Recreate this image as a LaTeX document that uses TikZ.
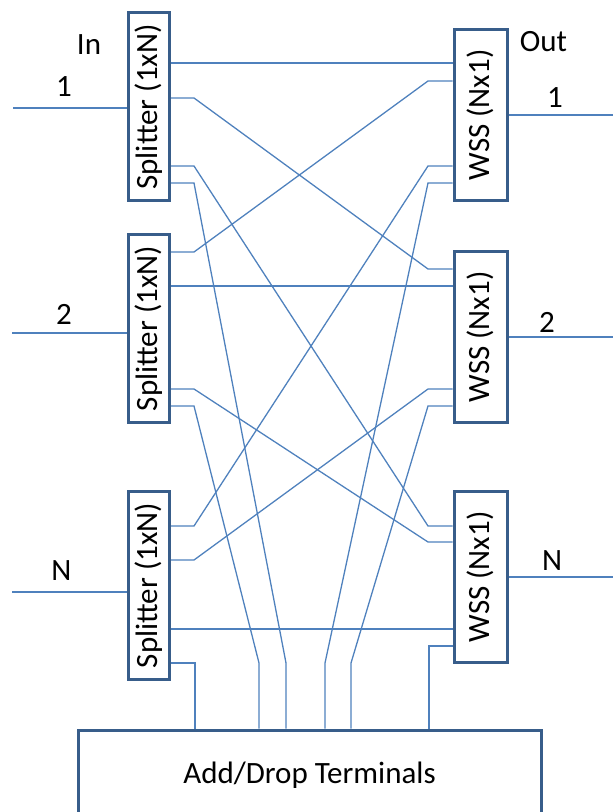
\documentclass[tikz,border=0pt]{standalone}
\usepackage{fontspec}
\setmainfont{Carlito}
\usetikzlibrary{calc}
\usetikzlibrary{backgrounds}
\definecolor{linkblue}{RGB}{79,129,189}
\definecolor{boxblue}{RGB}{56,93,138}

\begin{document}
\begin{tikzpicture}[x=0.5pt,y=-0.5pt,font=\fontsize{15.5}{18}\selectfont,
    splitbox/.style={draw=boxblue,line width=1.5pt,fill=white,inner sep=0pt,
      minimum width=20.5pt,minimum height=94pt},
    wssbox/.style={splitbox,minimum width=26.5pt,minimum height=85.5pt},
    link/.style={draw=linkblue,line width=0.65pt},
    lbl/.style={inner sep=0pt}]
    \useasboundingbox (0,0) rectangle (613,812);
    \coordinate (In1) at (13,108);
    \coordinate (In2) at (12,333);
    \coordinate (InN) at (12,592);
    \coordinate (Out1) at (613,115);
    \coordinate (Out2) at (613,337);
    \coordinate (OutN) at (613,577);
    % splitters and wss
    \node[splitbox] (S1) at (148.5,107) {\rotatebox{90}{Splitter (1xN)}};
    \node[splitbox] (S2) at (148.5,328.5) {\rotatebox{90}{Splitter (1xN)}};
    \node[splitbox] (S3) at (148.5,585.5) {\rotatebox{90}{Splitter (1xN)}};
    \node[wssbox] (W1) at (480.5,115) {\rotatebox{90}{WSS (Nx1)}};
    \node[wssbox] (W2) at (480.5,337) {\rotatebox{90}{WSS (Nx1)}};
    \node[wssbox] (W3) at (480.5,577) {\rotatebox{90}{WSS (Nx1)}};
    \node[draw=boxblue,line width=1.5pt,minimum width=231.5pt,minimum height=45pt] (ADT) at (309.5,775) {Add/Drop Terminals};
    % labels
    \node[lbl] (inlbl) at (89,45) {In};
    \node[lbl] (outlbl) at (543.5,41.5) {Out};
    \node[lbl] (in1lbl) at (64,87) {1};
    \node[lbl] (in2lbl) at (64,314) {2};
    \node[lbl] (inNlbl) at (61.5,571) {N};
    \node[lbl] (out1lbl) at (555,98) {1};
    \node[lbl] (out2lbl) at (547,322) {2};
    \node[lbl] (outNlbl) at (552,561) {N};
    \begin{scope}[on background layer]
      \draw[link] (In1)--(S1.west |- In1);
      \draw[link] (In2)--(S2.west |- In2);
      \draw[link] (InN)--(S3.west |- InN);
      \draw[link] (W1.east |- Out1)--(Out1);
      \draw[link] (W2.east |- Out2)--(Out2);
      \draw[link] (W3.east |- OutN)--(OutN);
      % straight through
      \draw[link] (S1.east |- 0,63)--(W1.west |- 0,63);
      \draw[link] (S2.east |- 0,286)--(W2.west |- 0,286);
      \draw[link] (S3.east |- 0,629)--(W3.west |- 0,629);
      % crossing
      \draw[link] (S1.east |- 0,98)--(194,98)--(428,269)--(W2.west |- 0,269);
      \draw[link] (S1.east |- 0,166)--(194,166)--(428,526)--(W3.west |- 0,526);
      \draw[link] (S2.east |- 0,252)--(194,252)--(428,81)--(W1.west |- 0,81);
      \draw[link] (S2.east |- 0,389)--(194,389)--(428,542)--(W3.west |- 0,542);
      \draw[link] (S3.east |- 0,526)--(194,526)--(428,166)--(W1.west |- 0,166);
      \draw[link] (S3.east |- 0,560)--(194,560)--(428,389)--(W2.west |- 0,389);
      % drop and add
      \draw[link] (S1.east |- 0,183)--(194,183)--(286,663)--(286,0 |- ADT.north);
      \draw[link] (S2.east |- 0,406)--(194,406)--(259,663)--(259,0 |- ADT.north);
      \draw[link] (S3.east |- 0,663)--(195,663)--(195,0 |- ADT.north);
      \draw[link] (W1.west |- 0,183)--(428,183)--(325,663)--(325,0 |- ADT.north);
      \draw[link] (W2.west |- 0,406)--(428,406)--(351,663)--(351,0 |- ADT.north);
      \draw[link] (W3.west |- 0,646)--(429,646)--(429,0 |- ADT.north);
    \end{scope}
  \end{tikzpicture}
\end{document}
